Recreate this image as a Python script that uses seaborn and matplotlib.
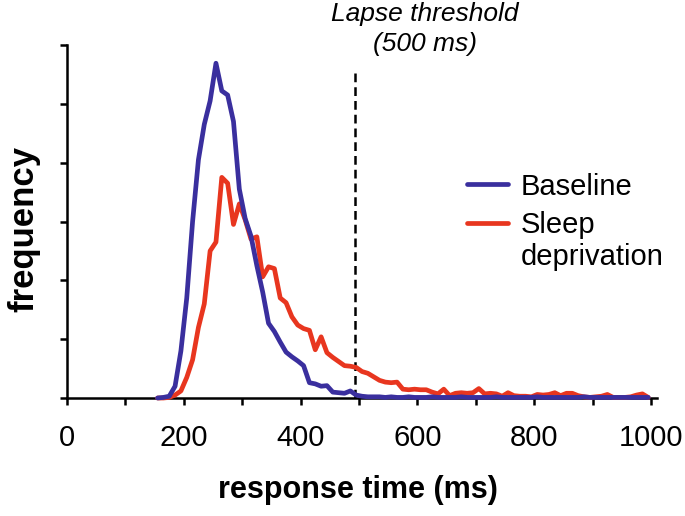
import matplotlib
matplotlib.use("Agg")
import matplotlib.pyplot as plt
import numpy as np
import pandas as pd
import seaborn as sns

# bin centres (ms) and frequencies (arbitrary units)
rt_bins = np.arange(155, 1000, 10)

baseline = [0, 0.01, 0.03, 0.2, 0.8, 1.7, 3.0, 4.05, 4.65, 5.05,
            5.69, 5.22, 5.15, 4.7, 3.55, 3.05, 2.75, 2.25, 1.8, 1.27,
            1.13, 0.95, 0.78, 0.7, 0.63, 0.55, 0.26, 0.24, 0.2, 0.21,
            0.1, 0.09, 0.08, 0.12, 0.05,
            0.03, 0.02, 0.02, 0.02, 0.01, 0.02, 0.01, 0.01, 0.02, 0.01,
            0.01, 0.01, 0.02, 0.01, 0.01, 0.01, 0.01, 0.02, 0.01, 0.01,
            0.01, 0.01, 0.01, 0.02, 0.01, 0.01, 0.01, 0.01, 0.01, 0.01,
            0.02, 0.01, 0.01, 0.01, 0.01, 0.01, 0.01, 0.01, 0.02, 0.01,
            0.01, 0.01, 0.01, 0.01, 0.01, 0.01, 0.01, 0.01, 0.01, 0.01]

sleep_dep = [0, 0, 0.01, 0.05, 0.12, 0.35, 0.65, 1.2, 1.6, 2.5,
             2.65, 3.75, 3.65, 2.95, 3.3, 3.03, 2.7, 2.74, 2.06, 2.23,
             2.2, 1.7, 1.62, 1.38, 1.24, 1.18, 1.15, 0.82, 1.04, 0.77,
             0.69, 0.62, 0.55, 0.54, 0.52,
             0.45, 0.42, 0.36, 0.3, 0.27, 0.26, 0.27, 0.15, 0.14, 0.15,
             0.14, 0.14, 0.1, 0.07, 0.15, 0.04, 0.08, 0.09, 0.08, 0.09,
             0.16, 0.07, 0.08, 0.07, 0.03, 0.09, 0.04, 0.03, 0.03, 0.02,
             0.06, 0.05, 0.06, 0.09, 0.04, 0.08, 0.08, 0.04, 0.02, 0.01,
             0.02, 0.03, 0.06, 0.01, 0.01, 0.01, 0.02, 0.05, 0.07, 0.01]

lapse_ms = 493
xtick_vals = list(range(0, 1001, 100))
xtick_labels = ["0", "", "200", "", "400", "", "600", "", "800", "", "1000"]

sns.set_style("ticks")
plt.rcParams["font.family"] = ["Liberation Sans", "DejaVu Sans"]
plt.rcParams["text.color"] = "black"
plt.rcParams["axes.labelcolor"] = "black"
plt.rcParams["xtick.color"] = "black"
plt.rcParams["ytick.color"] = "black"

fig = plt.figure(figsize=(6.85, 5.16), dpi=100)
ax = fig.add_axes([67 / 685, 118 / 516, 590 / 685, 353 / 516])

blue = "#3a2f9e"
red = "#e8361f"

sns.lineplot(x=rt_bins, y=baseline, color=blue, lw=3.4, label="Baseline",
             ax=ax, zorder=4, clip_on=False)
sns.lineplot(x=rt_bins, y=sleep_dep, color=red, lw=3.4, label="Sleep",
             ax=ax, zorder=3, clip_on=False)

ax.vlines(lapse_ms, 0, 5.55, colors="black", lw=1.8, linestyles=(0, (3.5, 2)), zorder=2)
fig.text(425 / 685, 1 - 2 / 516, "Lapse threshold\n(500 ms)", ha="center", va="top",
         fontsize=19, style="italic", linespacing=1.3)

ax.set_xlim(0, 1010)
ax.set_ylim(0, 6)
ax.set_xticks(xtick_vals)
ax.set_xticklabels(xtick_labels, fontsize=21)
ax.set_yticks(range(0, 7))
ax.set_yticklabels([])
ax.tick_params(axis="both", width=1.8, length=5, color="black")
ax.tick_params(axis="x", pad=14)

for side in ["top", "right"]:
    ax.spines[side].set_visible(False)
for side in ["left", "bottom"]:
    ax.spines[side].set_linewidth(1.8)
    ax.spines[side].set_color("black")

ax.set_xlabel("response time (ms)", fontsize=22, fontweight="bold")
ax.xaxis.set_label_coords(358 / 685, 1 - 490 / 516, transform=fig.transFigure)
ax.xaxis.label.set_va("center")
ax.set_ylabel("frequency", fontsize=25, fontweight="bold")
ax.yaxis.set_label_coords(24 / 685, 1 - 229 / 516, transform=fig.transFigure)
ax.yaxis.label.set_va("center")

leg = ax.legend(loc="upper left", bbox_to_anchor=(455 / 685, 1 - 161 / 516),
                bbox_transform=fig.transFigure, frameon=False, fontsize=21,
                handlelength=1.4, handletextpad=0.45, labelspacing=0.35,
                borderaxespad=0)

# second line of the "Sleep deprivation" entry, under the legend text
fig.canvas.draw()
sleep_box = leg.get_texts()[1].get_window_extent().transformed(fig.transFigure.inverted())
fig.text(sleep_box.x0, sleep_box.y0 - 4 / 516, "deprivation", fontsize=21,
         ha="left", va="top")

fig.savefig("out.png", dpi=100)
